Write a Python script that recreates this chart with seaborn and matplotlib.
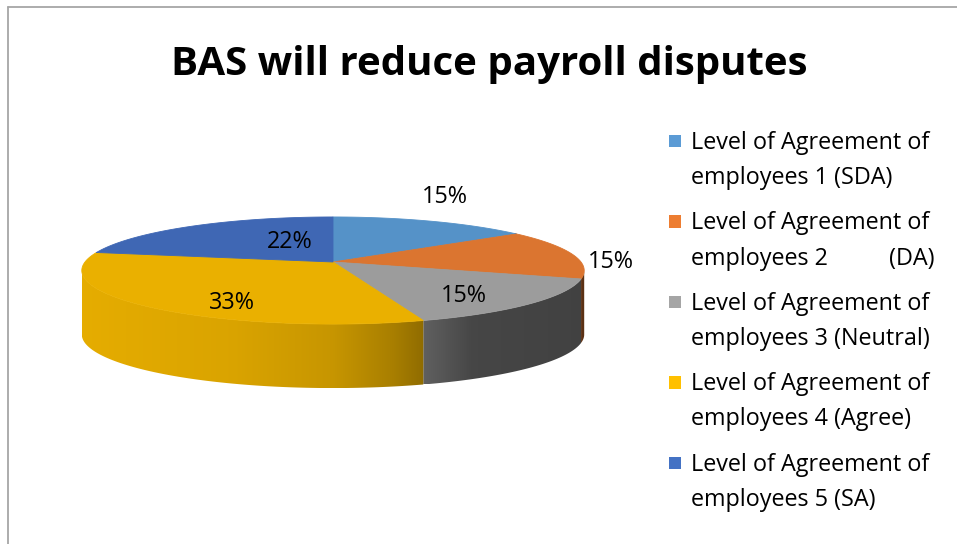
import numpy as np
import matplotlib
matplotlib.use("Agg")
import matplotlib.pyplot as plt
import seaborn as sns
from matplotlib.patches import Polygon
from matplotlib.lines import Line2D

title = "BAS will reduce payroll disputes"
categories = [
    "Level of Agreement of\nemployees 1 (SDA)",
    "Level of Agreement of\nemployees 2          (DA)",
    "Level of Agreement of\nemployees 3 (Neutral)",
    "Level of Agreement of\nemployees 4 (Agree)",
    "Level of Agreement of\nemployees 5 (SA)",
]
shares = [15, 15, 15, 33, 22]
legend_colors = ["#5B9BD5", "#ED7D31", "#A5A5A5", "#FFC000", "#4472C4"]
top_colors = ["#5592C8", "#DB7530", "#9C9C9C", "#EAB000", "#3F67B4"]

sns.set_theme(style="white")
plt.rcParams['font.family'] = ['Open Sans', 'DejaVu Sans']

W, H = 957, 544
fig = plt.figure(figsize=(W / 100, H / 100), dpi=100)
fig.patch.set_facecolor("white")

# pie axes, units roughly in pixels around the pie centre
ax = fig.add_axes([43 / W, (H - 420) / H, 580 / W, 250 / H])
XL, YL = (-290, 290), (-158, 92)
ax.axis('off')

RX, RY, DEPTH, P = 248, 52.2, 64, 0.159


def project(t_deg, r=1.0, drop=0.0):
    t = np.radians(t_deg)
    u, v = r * np.cos(t), r * np.sin(t)
    d = 1 + P * v
    return RX * u / d, RY * v / d - drop


# horizontal lighting on the side wall
shade_x = [-250, -100, 0, 60, 95, 140, 250]
shade_f = [0.98, 0.93, 0.85, 0.72, 0.60, 0.45, 0.42]

total = float(sum(shares))
t_start = 90 - 360 * np.concatenate([[0], np.cumsum(shares)[:-1]]) / total
t_end = t_start - 360 * np.array(shares) / total

ts = np.degrees(np.arcsin(P))
vis_lo, vis_hi = -180 + ts, -ts

# side walls
for a, b, col in zip(t_start, t_end, top_colors):
    lo, hi = max(b, vis_lo), min(a, vis_hi)
    if lo >= hi:
        continue
    tt = np.linspace(lo, hi, 120)
    xt, yt = project(tt)
    xb, yb = project(tt[::-1], drop=DEPTH)
    pts = np.column_stack([np.concatenate([xt, xb]), np.concatenate([yt, yb])])
    poly = Polygon(pts, closed=True, facecolor='none', edgecolor='none')
    ax.add_patch(poly)
    xs = np.linspace(pts[:, 0].min(), pts[:, 0].max(), 256)
    f = np.interp(xs, shade_x, shade_f)
    base = np.array(matplotlib.colors.to_rgb(col))
    img = np.clip(base[None, None, :] * f[None, :, None], 0, 1)
    im = ax.imshow(img, extent=[xs[0], xs[-1], pts[:, 1].min(), pts[:, 1].max()],
                   aspect='auto', interpolation='bilinear', zorder=1, origin='lower')
    im.set_clip_path(poly)

# top faces
for a, b, col in zip(t_start, t_end, top_colors):
    tt = np.linspace(a, b, 150)
    x, y = project(tt)
    pts = np.column_stack([np.concatenate([[0], x]), np.concatenate([[0], y])])
    ax.add_patch(Polygon(pts, closed=True, facecolor=col, edgecolor=col, lw=0.6, zorder=3))

# percentage labels
label_r = [1.65, 1.12, 0.76, 0.79, 0.45]
label_dt = [7, -9, -6, 14, -15]
for a, b, s, r, dt in zip(t_start, t_end, shares, label_r, label_dt):
    lx, ly = project((a + b) / 2 + dt, r)
    ax.text(lx, ly, f"{s}%", ha='center', va='center', fontsize=16.8, color='black', zorder=5)

ax.set_xlim(*XL)
ax.set_ylim(*YL)

# legend
lax = fig.add_axes([655 / W, (H - 510) / H, 302 / W, 390 / H])
lax.set_xlim(0, 302)
lax.set_ylim(4.584, -0.261)
lax.axis('off')
idx = np.arange(len(categories))
lax.scatter(np.full(len(idx), 20), idx, marker='s', s=80, c=legend_colors, linewidths=0)
for i, lab in zip(idx, categories):
    line1, line2 = lab.split("\n")
    lax.text(36, i + 0.02, line1, ha='left', va='center', fontsize=16.8, color='black')
    lax.text(36, i + 37 / 80.5, line2, ha='left', va='center', fontsize=16.8, color='black')

fig.text(489 / W, 1 - 65 / H, title, ha='center', va='center', fontsize=29,
         fontweight='bold', color='black')

# chart border (top and left edges visible)
fig.add_artist(Line2D([8 / W, 1], [1 - 7 / H, 1 - 7 / H], transform=fig.transFigure,
                      color='#A6A6A6', lw=1.3))
fig.add_artist(Line2D([8 / W, 8 / W], [0, 1 - 7 / H], transform=fig.transFigure,
                      color='#A6A6A6', lw=1.3))

fig.savefig("out.png", dpi=100)
